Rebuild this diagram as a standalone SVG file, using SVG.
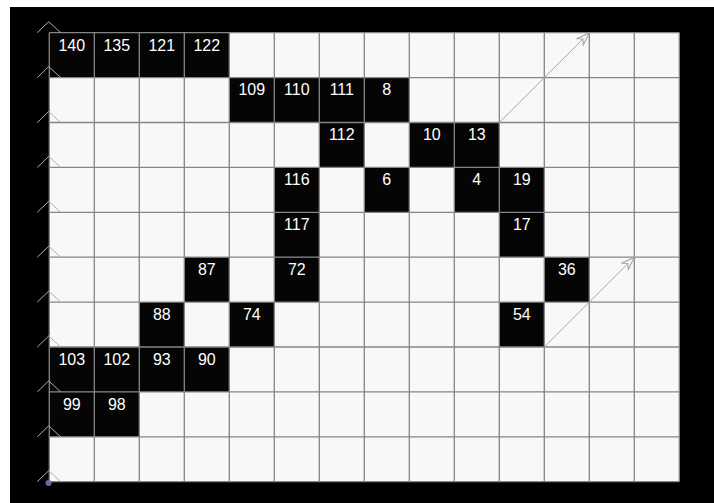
<svg xmlns="http://www.w3.org/2000/svg" width="714" height="503" viewBox="0 0 714 503">
<style>
.blk{fill:#050505}
.lbl{font-family:"Liberation Sans",Arial,sans-serif;font-size:16px;fill:#ffffff;text-anchor:middle}
.grid{stroke:#858585;stroke-width:1.3;fill:none}
.tri{fill:none;stroke:#b0b0b0;stroke-width:1}
.arr{stroke:#a8a8a8;stroke-width:1;fill:none}
</style>
<defs>
<marker id="dart" viewBox="-14 -6 16 12" refX="0" refY="0" markerWidth="16" markerHeight="12" markerUnits="userSpaceOnUse" orient="auto">
<path d="M0,0 L-13,-4.5 L-9,0 L-13,4.5 Z" fill="#f8f8f8" stroke="#a0a0a0" stroke-width="1"/>
</marker>
</defs>
<rect x="0" y="0" width="714" height="503" fill="#ffffff"/>
<rect x="10" y="7" width="704" height="496" fill="#000000"/>
<rect x="49.3" y="32.7" width="630" height="449" fill="#f8f8f8"/>

<g id="r0c0"><rect class="blk" x="49.3" y="32.7" width="45" height="44.9"/><text class="lbl" x="71.8" y="50.5">140</text></g>
<g id="r0c1"><rect class="blk" x="94.3" y="32.7" width="45" height="44.9"/><text class="lbl" x="116.8" y="50.5">135</text></g>
<g id="r0c2"><rect class="blk" x="139.3" y="32.7" width="45" height="44.9"/><text class="lbl" x="161.8" y="50.5">121</text></g>
<g id="r0c3"><rect class="blk" x="184.3" y="32.7" width="45" height="44.9"/><text class="lbl" x="206.8" y="50.5">122</text></g>

<g id="r1c4"><rect class="blk" x="229.3" y="77.6" width="45" height="44.9"/><text class="lbl" x="251.8" y="95.4">109</text></g>
<g id="r1c5"><rect class="blk" x="274.3" y="77.6" width="45" height="44.9"/><text class="lbl" x="296.8" y="95.4">110</text></g>
<g id="r1c6"><rect class="blk" x="319.3" y="77.6" width="45" height="44.9"/><text class="lbl" x="341.8" y="95.4">111</text></g>
<g id="r1c7"><rect class="blk" x="364.3" y="77.6" width="45" height="44.9"/><text class="lbl" x="386.8" y="95.4">8</text></g>

<g id="r2c6"><rect class="blk" x="319.3" y="122.5" width="45" height="44.9"/><text class="lbl" x="341.8" y="140.3">112</text></g>
<g id="r2c8"><rect class="blk" x="409.3" y="122.5" width="45" height="44.9"/><text class="lbl" x="431.8" y="140.3">10</text></g>
<g id="r2c9"><rect class="blk" x="454.3" y="122.5" width="45" height="44.9"/><text class="lbl" x="476.8" y="140.3">13</text></g>

<g id="r3c5"><rect class="blk" x="274.3" y="167.4" width="45" height="44.9"/><text class="lbl" x="296.8" y="185.2">116</text></g>
<g id="r3c7"><rect class="blk" x="364.3" y="167.4" width="45" height="44.9"/><text class="lbl" x="386.8" y="185.2">6</text></g>
<g id="r3c9"><rect class="blk" x="454.3" y="167.4" width="45" height="44.9"/><text class="lbl" x="476.8" y="185.2">4</text></g>
<g id="r3c10"><rect class="blk" x="499.3" y="167.4" width="45" height="44.9"/><text class="lbl" x="521.8" y="185.2">19</text></g>

<g id="r4c5"><rect class="blk" x="274.3" y="212.3" width="45" height="44.9"/><text class="lbl" x="296.8" y="230.1">117</text></g>
<g id="r4c10"><rect class="blk" x="499.3" y="212.3" width="45" height="44.9"/><text class="lbl" x="521.8" y="230.1">17</text></g>

<g id="r5c3"><rect class="blk" x="184.3" y="257.2" width="45" height="44.9"/><text class="lbl" x="206.8" y="275">87</text></g>
<g id="r5c5"><rect class="blk" x="274.3" y="257.2" width="45" height="44.9"/><text class="lbl" x="296.8" y="275">72</text></g>
<g id="r5c11"><rect class="blk" x="544.3" y="257.2" width="45" height="44.9"/><text class="lbl" x="566.8" y="275">36</text></g>

<g id="r6c2"><rect class="blk" x="139.3" y="302.1" width="45" height="44.9"/><text class="lbl" x="161.8" y="319.9">88</text></g>
<g id="r6c4"><rect class="blk" x="229.3" y="302.1" width="45" height="44.9"/><text class="lbl" x="251.8" y="319.9">74</text></g>
<g id="r6c10"><rect class="blk" x="499.3" y="302.1" width="45" height="44.9"/><text class="lbl" x="521.8" y="319.9">54</text></g>

<g id="r7c0"><rect class="blk" x="49.3" y="347" width="45" height="44.9"/><text class="lbl" x="71.8" y="364.8">103</text></g>
<g id="r7c1"><rect class="blk" x="94.3" y="347" width="45" height="44.9"/><text class="lbl" x="116.8" y="364.8">102</text></g>
<g id="r7c2"><rect class="blk" x="139.3" y="347" width="45" height="44.9"/><text class="lbl" x="161.8" y="364.8">93</text></g>
<g id="r7c3"><rect class="blk" x="184.3" y="347" width="45" height="44.9"/><text class="lbl" x="206.8" y="364.8">90</text></g>

<g id="r8c0"><rect class="blk" x="49.3" y="391.9" width="45" height="44.9"/><text class="lbl" x="71.8" y="409.7">99</text></g>
<g id="r8c1"><rect class="blk" x="94.3" y="391.9" width="45" height="44.9"/><text class="lbl" x="116.8" y="409.7">98</text></g>

<g id="grid" class="grid">
<path d="M49.3,32.7V481.7M94.3,32.7V481.7M139.3,32.7V481.7M184.3,32.7V481.7M229.3,32.7V481.7M274.3,32.7V481.7M319.3,32.7V481.7M364.3,32.7V481.7M409.3,32.7V481.7M454.3,32.7V481.7M499.3,32.7V481.7M544.3,32.7V481.7M589.3,32.7V481.7M634.3,32.7V481.7M679.3,32.7V481.7"/>
<path d="M49.3,32.7H679.3M49.3,77.6H679.3M49.3,122.5H679.3M49.3,167.4H679.3M49.3,212.3H679.3M49.3,257.2H679.3M49.3,302.1H679.3M49.3,347H679.3M49.3,391.9H679.3M49.3,436.8H679.3M49.3,481.7H679.3"/>
</g>

<g id="supports" class="tri">
<path d="M37.3,32.7L48.7,21.7L60.7,32.7"/>
<path d="M37.3,77.6L48.7,66.6L60.7,77.6"/>
<path d="M37.3,122.5L48.7,111.5L60.7,122.5"/>
<path d="M37.3,167.4L48.7,156.4L60.7,167.4"/>
<path d="M37.3,212.3L48.7,201.3L60.7,212.3"/>
<path d="M37.3,257.2L48.7,246.2L60.7,257.2"/>
<path d="M37.3,302.1L48.7,291.1L60.7,302.1"/>
<path d="M37.3,347L48.7,336L60.7,347"/>
<path d="M37.3,391.9L48.7,380.9L60.7,391.9"/>
<path d="M37.3,436.8L48.7,425.8L60.7,436.8"/>
<path d="M37.3,481.7L48.7,470.7L60.7,481.7"/>
</g>
<circle id="origin" cx="48.5" cy="483" r="3" fill="#6a6aa8"/>

<g id="connectors">
<line class="arr" x1="499.3" y1="122.5" x2="589.3" y2="32.7" marker-end="url(#dart)"/>
<line class="arr" x1="544.3" y1="347" x2="634.3" y2="257.2" marker-end="url(#dart)"/>
</g>
</svg>
